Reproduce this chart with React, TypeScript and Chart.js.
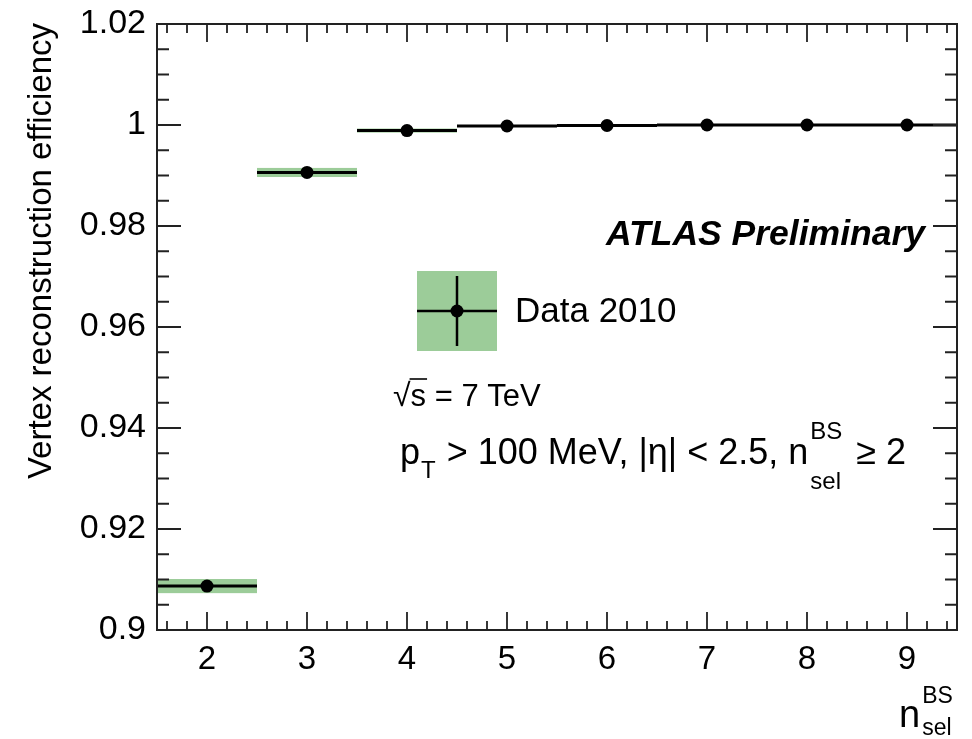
import { useEffect, useRef } from "react";
import { Chart, registerables } from "chart.js";

Chart.register(...registerables);

// ---- data ----
const nSel = [2, 3, 4, 5, 6, 7, 8, 9];
const efficiency = [0.9087, 0.9906, 0.9989, 0.9998, 0.9999, 1.0, 1.0, 1.0];
const statErr = [0.0008, 0.0004, 0.0002, 0.0001, 0.00005, 0.00003, 0.00002, 0.00002];
const systErr = [0.0014, 0.0009, 0.0004, 0.00012, 0.00005, 0.00003, 0.00002, 0.00002];
const binHalfWidth = 0.5;

const xTicks = [2, 3, 4, 5, 6, 7, 8, 9];
const xTickLabels = ["2", "3", "4", "5", "6", "7", "8", "9"];
const yTicks = [0.9, 0.92, 0.94, 0.96, 0.98, 1.0, 1.02];
const yTickLabels = ["0.9", "0.92", "0.94", "0.96", "0.98", "1", "1.02"];

const xRange = [1.5, 9.5];
const yRange = [0.9, 1.02];
const xMinorStep = 0.2;
const yMinorStep = 0.005;

const seriesLabel = "Data 2010";
const yTitle = "Vertex reconstruction efficiency";

const FONT = "'Liberation Sans', Arial, Helvetica, sans-serif";
const GREEN = "#9ccc99";
const AXIS = "#222222";

function drawText(ctx: CanvasRenderingContext2D, text: string, x: number, y: number, size: number, style = "") {
  ctx.font = `${style} ${size}px ${FONT}`.trim();
  ctx.fillText(text, x, y);
  return ctx.measureText(text).width;
}

const atlasPlugin = {
  id: "atlasPlugin",
  beforeDatasetsDraw(chart: any) {
    const { ctx, chartArea } = chart;
    const xs = chart.scales.x;
    const ys = chart.scales.y;
    ctx.save();
    ctx.beginPath();
    ctx.rect(chartArea.left, chartArea.top, chartArea.right - chartArea.left, chartArea.bottom - chartArea.top);
    ctx.clip();
    // systematic bands
    ctx.fillStyle = GREEN;
    nSel.forEach((n, i) => {
      const x0 = xs.getPixelForValue(n - binHalfWidth);
      const x1 = xs.getPixelForValue(n + binHalfWidth);
      const y0 = ys.getPixelForValue(efficiency[i] + systErr[i]);
      const y1 = ys.getPixelForValue(efficiency[i] - systErr[i]);
      ctx.fillRect(x0, y0, x1 - x0, Math.max(y1 - y0, 0));
    });
    // error bars
    ctx.strokeStyle = "#000";
    ctx.lineWidth = 3;
    nSel.forEach((n, i) => {
      const x0 = xs.getPixelForValue(n - binHalfWidth);
      const x1 = xs.getPixelForValue(n + binHalfWidth);
      const xc = xs.getPixelForValue(n);
      const yc = ys.getPixelForValue(efficiency[i]);
      ctx.beginPath();
      ctx.moveTo(x0, yc);
      ctx.lineTo(x1, yc);
      ctx.stroke();
      ctx.beginPath();
      ctx.moveTo(xc, ys.getPixelForValue(efficiency[i] + statErr[i]));
      ctx.lineTo(xc, ys.getPixelForValue(efficiency[i] - statErr[i]));
      ctx.stroke();
    });
    ctx.restore();
  },
  afterDraw(chart: any) {
    const { ctx, chartArea } = chart;
    const xs = chart.scales.x;
    const ys = chart.scales.y;
    const { left, right, top, bottom } = chartArea;
    ctx.save();
    ctx.strokeStyle = AXIS;
    ctx.lineWidth = 2;
    // frame
    ctx.strokeRect(left, top, right - left, bottom - top);
    // x ticks (bottom & top)
    ctx.lineWidth = 1.8;
    const nxMinor = Math.round((xRange[1] - xRange[0]) / xMinorStep);
    for (let k = 0; k <= nxMinor; k++) {
      const v = Math.round((xRange[0] + 0.1 + k * xMinorStep) * 1000) / 1000;
      if (v <= xRange[0] || v >= xRange[1]) continue;
      const major = Math.abs(v - Math.round(v)) < 1e-6;
      const len = major ? 18 : 9;
      const px = xs.getPixelForValue(v);
      ctx.beginPath();
      ctx.moveTo(px, bottom);
      ctx.lineTo(px, bottom - len);
      ctx.moveTo(px, top);
      ctx.lineTo(px, top + len);
      ctx.stroke();
    }
    // y ticks (left & right)
    const nyMinor = Math.round((yRange[1] - yRange[0]) / yMinorStep);
    for (let k = 1; k < nyMinor; k++) {
      const major = k % 4 === 0;
      const v = yRange[0] + k * yMinorStep;
      const len = major ? 24 : 12;
      const py = ys.getPixelForValue(v);
      ctx.beginPath();
      ctx.moveTo(left, py);
      ctx.lineTo(left + len, py);
      ctx.moveTo(right, py);
      ctx.lineTo(right - len, py);
      ctx.stroke();
    }
    ctx.fillStyle = "#000";
    ctx.textBaseline = "alphabetic";
    ctx.textAlign = "left";

    // y-axis title
    ctx.save();
    ctx.translate(42, top - 1);
    ctx.rotate(-Math.PI / 2);
    ctx.textAlign = "right";
    ctx.textBaseline = "middle";
    ctx.font = `33px ${FONT}`;
    ctx.fillText(yTitle, 0, 0);
    ctx.restore();

    // x-axis title n_sel^BS
    ctx.textAlign = "left";
    let w = drawText(ctx, "n", 899, 727, 38);
    drawText(ctx, "BS", 899 + w + 2, 703, 23);
    drawText(ctx, "sel", 899 + w + 2, 735, 23);

    // ATLAS Preliminary
    ctx.textAlign = "right";
    drawText(ctx, "ATLAS Preliminary", 925, 245, 35.5, "italic bold");
    ctx.textAlign = "left";

    // legend
    ctx.fillStyle = GREEN;
    ctx.fillRect(417, 271, 80, 80);
    ctx.strokeStyle = "#000";
    ctx.lineWidth = 2.5;
    ctx.beginPath();
    ctx.moveTo(417, 311);
    ctx.lineTo(497, 311);
    ctx.moveTo(457, 276);
    ctx.lineTo(457, 346);
    ctx.stroke();
    ctx.fillStyle = "#000";
    ctx.beginPath();
    ctx.arc(457, 311, 6.5, 0, Math.PI * 2);
    ctx.fill();
    ctx.textBaseline = "middle";
    drawText(ctx, seriesLabel, 515, 312, 35);
    ctx.textBaseline = "alphabetic";

    // sqrt(s) = 7 TeV
    let x = 393;
    w = drawText(ctx, "\u221A", x, 406, 32);
    x += w;
    const sw = drawText(ctx, "s", x, 406, 31);
    ctx.lineWidth = 1.6;
    ctx.beginPath();
    ctx.moveTo(x - 1, 379);
    ctx.lineTo(x + sw + 1, 379);
    ctx.stroke();
    x += sw;
    drawText(ctx, " = 7 TeV", x, 406, 31);

    // pT > 100 MeV, |eta| < 2.5, n_sel^BS >= 2
    x = 400;
    const base = 464;
    x += drawText(ctx, "p", x, base, 36);
    x += drawText(ctx, "T", x + 1, base + 14, 24) + 2;
    x += drawText(ctx, " > 100 MeV, |\u03B7| < 2.5, n", x, base, 36);
    const bw = drawText(ctx, "BS", x + 2, base - 25, 24);
    const slw = drawText(ctx, "sel", x + 2, base + 25, 24);
    x += Math.max(bw, slw) + 6;
    drawText(ctx, " \u2265 2", x, base, 36);
    ctx.restore();
  },
};

export default function App() {
  const ref = useRef<HTMLCanvasElement | null>(null);
  useEffect(() => {
    if (!ref.current) return;
    const chart = new Chart(ref.current, {
      type: "scatter",
      data: {
        datasets: [
          {
            label: seriesLabel,
            data: nSel.map((n, i) => ({ x: n, y: efficiency[i] })),
            pointRadius: 6.5,
            pointHoverRadius: 6.5,
            pointBackgroundColor: "#000",
            pointBorderColor: "#000",
            pointBorderWidth: 0,
          },
        ],
      },
      options: {
        responsive: false,
        animation: false,
        devicePixelRatio: 1,
        layout: { padding: { top: 24, right: 15, left: 0, bottom: 0 } },
        plugins: { legend: { display: false }, tooltip: { enabled: false } },
        scales: {
          x: {
            type: "linear",
            min: xRange[0],
            max: xRange[1],
            grid: { display: false, drawTicks: false },
            border: { display: false },
            afterBuildTicks: (s: any) => {
              s.ticks = xTicks.map((v) => ({ value: v }));
            },
            afterFit: (s: any) => {
              s.height = 109;
              s.paddingLeft = 0;
              s.paddingRight = 0;
            },
            ticks: {
              autoSkip: false,
              maxRotation: 0,
              padding: 10,
              color: "#000",
              font: { size: 33, family: FONT },
              callback: (v: any) => xTickLabels[xTicks.indexOf(Number(v))] ?? "",
            },
          },
          y: {
            type: "linear",
            min: yRange[0],
            max: yRange[1],
            grid: { display: false, drawTicks: false },
            border: { display: false },
            afterBuildTicks: (s: any) => {
              s.ticks = yTicks.map((v) => ({ value: v }));
            },
            afterFit: (s: any) => {
              s.width = 157;
              s.paddingTop = 0;
              s.paddingBottom = 0;
            },
            ticks: {
              autoSkip: false,
              padding: 11,
              color: "#000",
              font: { size: 34, family: FONT },
              callback: (v: any) => {
                const idx = yTicks.findIndex((t) => Math.abs(t - Number(v)) < 1e-9);
                return idx >= 0 ? yTickLabels[idx] : "";
              },
            },
          },
        },
      },
      plugins: [atlasPlugin],
    } as any);
    return () => chart.destroy();
  }, []);
  return (
    <div style={{ position: "fixed", left: 0, top: 0, width: 972, height: 739, background: "#fff" }}>
      <canvas ref={ref} width={972} height={739} style={{ width: 972, height: 739 }} />
    </div>
  );
}
